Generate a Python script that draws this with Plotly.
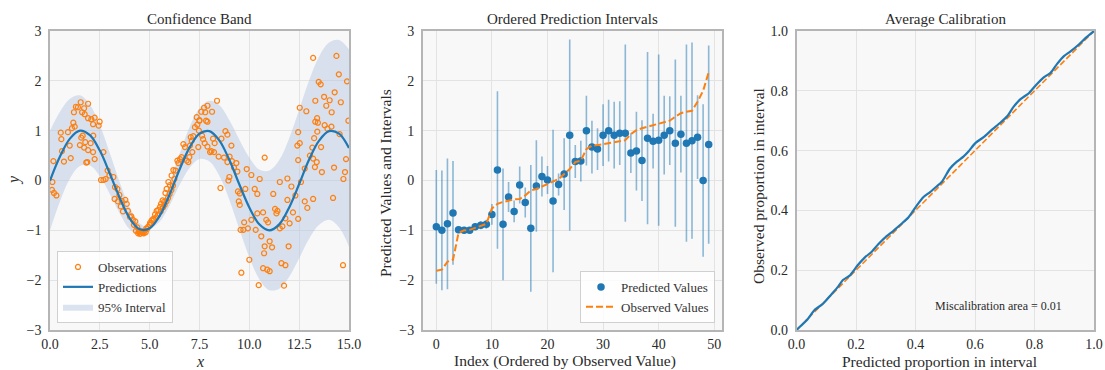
import plotly.graph_objects as go

# ---------------- Panel 1 data: Confidence Band ----------------
curve_x = [0.0, 0.5, 1.0, 1.5, 2.0, 2.5, 3.0, 3.5, 4.0, 4.5, 5.0, 5.5, 6.0, 6.5, 7.0, 7.5,
           8.0, 8.5, 9.0, 9.5, 10.0, 10.5, 11.0, 11.5, 12.0, 12.5, 13.0, 13.5, 14.0, 14.5, 15.0]
pred_curve = [0.0, 0.48, 0.84, 1.0, 0.91, 0.6, 0.14, -0.35, -0.76, -0.98, -0.96, -0.71, -0.28,
              0.22, 0.66, 0.94, 0.99, 0.8, 0.41, -0.08, -0.54, -0.88, -1.0, -0.88, -0.54, -0.07,
              0.42, 0.8, 0.99, 0.94, 0.65]
band_half = [1.0, 0.9, 0.8, 0.71, 0.61, 0.51, 0.41, 0.31, 0.22, 0.12, 0.02, 0.12, 0.22, 0.31,
             0.41, 0.51, 0.61, 0.71, 0.8, 0.9, 1.0, 1.1, 1.2, 1.29, 1.39, 1.49, 1.59, 1.69, 1.78,
             1.88, 1.98]

obs_x = [0.10, 0.12, 0.17, 0.20, 0.32, 0.54, 0.57, 0.60, 0.70, 0.90, 0.99, 1.04, 1.10, 1.17, 1.20,
         1.24, 1.30, 1.40, 1.50, 1.54, 1.57, 1.61, 1.64, 1.71, 1.71, 1.74, 1.77, 1.82, 1.87, 1.91,
         1.91, 1.91, 2.04, 2.07, 2.16, 2.16, 2.17, 2.24, 2.24, 2.44, 2.49, 2.68,
         2.56, 2.68, 2.79, 2.89, 2.98, 3.18, 3.24, 3.26, 3.38, 3.41, 3.48, 3.55, 3.60, 3.66, 3.78,
         3.85, 3.91, 4.01, 4.08, 4.16, 4.21, 4.28, 4.31, 4.38, 4.42, 4.45, 4.50, 4.52, 4.58, 4.61,
         4.65, 4.70, 4.75, 4.80, 4.83, 4.88, 4.92,
         5.00, 5.02, 5.08, 5.10, 5.18, 5.22, 5.27, 5.33, 5.35, 5.42, 5.43, 5.52, 5.55, 5.57, 5.65,
         5.67, 5.72, 5.75, 5.79, 5.84, 5.85, 5.92, 5.94, 6.00, 6.02, 6.09, 6.10, 6.17, 6.19, 6.24,
         6.30, 6.39, 6.44, 6.52, 6.60, 6.69, 6.77, 6.86, 6.94, 6.99, 7.02, 7.06, 7.11, 7.14, 7.19,
         7.27, 7.36, 7.39, 7.44, 7.47, 7.49,
         7.50, 7.59, 7.63, 7.68, 7.73, 7.76, 7.79, 7.83, 7.90, 7.90, 7.90, 8.03, 8.10, 8.13, 8.18,
         8.23, 8.26, 8.38, 8.46, 8.55, 8.60, 8.73, 8.80, 8.90, 8.90, 8.95, 9.01, 9.00, 9.10, 9.13,
         9.23, 9.35, 9.40, 9.43, 9.47, 9.52, 9.52, 9.56, 9.60, 9.70, 9.74, 9.80, 9.87, 9.93, 10.00,
         10.10, 10.10, 10.27, 10.32, 10.40, 10.40, 10.47, 10.52, 10.60, 10.69, 10.69, 10.74, 10.77,
         10.77, 10.85, 10.90, 10.94, 11.02, 11.02, 11.14, 11.20, 11.29, 11.36, 11.41, 11.53, 11.53,
         11.61, 11.66, 11.74, 11.81, 11.81, 11.91, 11.91, 11.97, 12.02, 12.11, 12.19, 12.31, 12.41,
         12.45, 12.45, 12.45, 12.53, 12.53,
         12.59, 12.78, 12.78, 12.86, 12.91, 13.04, 13.16, 13.20, 13.20, 13.20, 13.25, 13.29, 13.31,
         13.31, 13.38, 13.40, 13.41, 13.44, 13.48, 13.58, 13.60, 13.64, 13.75, 13.78, 13.86, 13.92,
         14.03, 14.12, 14.13, 14.20, 14.25, 14.28, 14.37, 14.49, 14.53, 14.59, 14.70, 14.72, 14.80,
         14.85, 14.90, 14.97]
obs_y = [-0.19, -0.03, 0.39, -0.25, -0.30, 0.96, 0.83, 0.59, 0.38, 0.97, 0.70, 0.45, 1.05, 1.16,
         1.37, 1.08, 1.48, 1.47, 0.71, 1.57, 0.86, 1.37, 0.90, 1.45, 0.66, 1.33, 0.77, 0.36, 0.37,
         1.54, 1.25, 0.61, 0.75, 1.23, 1.13, 0.57, 0.90, 1.26, 0.43, 1.10, 1.18, 0.57,
         0.01, 0.01, 0.03, 0.20, 0.10, 0.07, -0.37, -0.13, -0.17, -0.42, -0.29, -0.52, -0.41, -0.62,
         -0.39, -0.47, -0.61, -0.73, -0.72, -0.79, -0.89, -0.82, -1.01, -0.94, -1.06, -1.03, -1.02,
         -1.07, -1.02, -1.04, -1.05, -1.06, -1.01, -1.04, -0.96, -0.97, -0.93,
         -0.89, -0.85, -0.86, -0.80, -0.77, -0.79, -0.68, -0.74, -0.61, -0.69, -0.59, -0.53, -0.62,
         -0.47, -0.40, -0.54, -0.43, -0.49, -0.25, -0.42, -0.17, -0.35, -0.03, -0.27, -0.09, -0.19,
         0.10, -0.10, 0.21, 0.03, 0.20, 0.40, 0.35, 0.43, 0.47, 0.73, 0.67, 0.40, 0.37, 0.47, 0.70,
         0.87, 0.80, 0.57, 0.89, 1.07, 1.27, 1.12, 0.67, 1.00, 1.20,
         1.21, 1.38, 0.90, 0.83, 1.46, 0.75, 1.37, 1.20, 1.50, 1.18, 0.68, 0.57, 0.59, 1.38, 0.84,
         0.57, 0.75, 1.60, 0.48, -0.15, 0.84, 0.46, 0.99, 0.92, 0.37, 0.00, 0.48, 0.07, 0.70, 0.39,
         0.26, 0.35, 0.18, -0.22, -0.42, -0.26, -0.49, -0.99, -1.85, -0.99, -0.84, -0.17, 0.23,
         -0.96, -1.59,
         0.11, -0.79, -0.17, -0.99, -0.27, -0.66, -2.10, 0.03, -1.12, -0.64, -1.76, -1.46, 0.46,
         -1.32, -0.79, -1.79, -0.84, -1.22, -1.82, -1.34, -0.27, -0.57, -0.66, -0.61, -0.03, -0.96,
         -1.66, -0.92, -2.11, -0.76, -1.70, -0.39, 0.04, -1.32, -0.86, -0.12, -0.64, -0.30, 0.70,
         0.97, 0.41, -0.77, 1.46, 0.75,
         -0.03, 0.24, -0.42, 1.39, -0.55, 0.50, 0.66, 2.46, 0.44, -0.37, 0.85, 0.27, 1.60, 1.18,
         0.37, 1.25, 0.98, 1.16, 1.98, 1.93, 0.67, 0.17, 1.68, 1.11, 1.50, 1.04, 1.61, 1.08, 1.37,
         -0.35, 0.26, 1.77, 2.50, 2.13, 0.93, 1.57, -1.70, 0.03, 0.17, 0.43, 1.99, 1.20]

# ---------------- Panel 2 data: Ordered Prediction Intervals ----------------
order_idx = list(range(50))
pred_values = [-0.93, -1.0, -0.87, -0.65, -0.99, -1.0, -1.0, -0.93, -0.9, -0.88,
               -0.68, 0.21, -0.88, -0.33, -0.62, -0.09, -0.44, -0.96, -0.11, 0.08,
               0.01, -0.41, -0.08, 0.13, 0.91, 0.38, 0.39, 1.0, 0.67, 0.63,
               0.91, 1.0, 0.91, 0.95, 0.95, 0.55, 0.59, 0.4, 0.85, 0.79,
               0.81, 0.91, 1.0, 0.75, 0.93, 0.75, 0.8, 0.87, 0.0, 0.72]
interval_half = [1.14, 1.2, 1.31, 1.04, 0.07, 0.06, 0.06, 0.07, 0.08, 0.09,
                 0.21, 1.58, 1.12, 0.3, 0.22, 0.37, 0.3, 1.27, 0.92, 0.4,
                 0.28, 1.43, 0.22, 0.72, 1.92, 0.33, 0.41, 0.7, 0.53, 0.42,
                 0.62, 0.62, 0.67, 0.64, 1.78, 0.4, 0.79, 0.81, 1.73, 0.55,
                 1.72, 0.79, 0.69, 1.68, 0.77, 1.98, 1.97, 0.84, 1.53, 1.99]
observed_sorted = [-1.81, -1.79, -1.63, -1.59, -1.05, -1.0, -0.99, -0.95, -0.91, -0.87,
                   -0.56, -0.47, -0.43, -0.4, -0.38, -0.37, -0.3, -0.2, -0.17, -0.12,
                   -0.07, -0.03, 0.03, 0.13, 0.23, 0.37, 0.4, 0.63, 0.7, 0.71,
                   0.73, 0.75, 0.78, 0.8, 0.81, 0.93, 1.01, 1.05, 1.08, 1.11,
                   1.15, 1.17, 1.2, 1.28, 1.35, 1.38, 1.4, 1.58, 1.8, 2.17]

# ---------------- Panel 3 data: Average Calibration ----------------
cal_expected = [0.0, 0.016, 0.038, 0.06, 0.089, 0.117, 0.14, 0.156, 0.179, 0.207, 0.23, 0.252,
                0.274, 0.303, 0.325, 0.348, 0.376, 0.404, 0.426, 0.449, 0.471, 0.488, 0.499,
                0.516, 0.539, 0.561, 0.578, 0.601, 0.629, 0.657, 0.685, 0.708, 0.73, 0.753,
                0.781, 0.803, 0.831, 0.854, 0.876, 0.899, 0.921, 0.949, 0.972, 1.0]
cal_observed = [0.0, 0.015, 0.037, 0.066, 0.088, 0.119, 0.145, 0.167, 0.182, 0.218, 0.243, 0.261,
                0.286, 0.314, 0.331, 0.351, 0.376, 0.416, 0.444, 0.461, 0.48, 0.495, 0.512,
                0.54, 0.563, 0.58, 0.597, 0.625, 0.645, 0.67, 0.693, 0.715, 0.747, 0.772,
                0.792, 0.817, 0.845, 0.86, 0.89, 0.916, 0.932, 0.955, 0.977, 1.0]
ideal_line = [0.0, 1.0]
miscal_text = "Miscalibration area = 0.01"

# ---------------- Figure ----------------
FONT = "Liberation Serif"
BLUE = "#1f77b4"
ORANGE = "#ff7f0e"

upper = [p + h for p, h in zip(pred_curve, band_half)]
lower = [p - h for p, h in zip(pred_curve, band_half)]

fig = go.Figure()

fig.add_trace(go.Scatter(x=curve_x, y=lower, mode="lines", line=dict(width=0, shape="spline"),
                         showlegend=False, hoverinfo="skip", xaxis="x", yaxis="y"))
fig.add_trace(go.Scatter(x=curve_x, y=upper, mode="lines", line=dict(width=0, shape="spline"),
                         fill="tonexty", fillcolor="rgba(176,196,222,0.45)",
                         name="95% Interval", legend="legend", legendrank=3,
                         xaxis="x", yaxis="y"))
fig.add_trace(go.Scatter(x=obs_x, y=obs_y, mode="markers",
                         marker=dict(symbol="circle-open", size=5, color=ORANGE,
                                     line=dict(width=1.2, color=ORANGE)),
                         name="Observations", legend="legend", legendrank=1,
                         xaxis="x", yaxis="y"))
fig.add_trace(go.Scatter(x=curve_x, y=pred_curve, mode="lines",
                         line=dict(color=BLUE, width=2.2, shape="spline"),
                         name="Predictions", legend="legend", legendrank=2,
                         xaxis="x", yaxis="y"))

fig.add_trace(go.Scatter(x=order_idx, y=pred_values, mode="markers",
                         marker=dict(color="rgba(0,0,0,0)", size=1),
                         error_y=dict(type="data", array=interval_half, symmetric=True,
                                      color="rgba(31,119,180,0.5)", thickness=1.6, width=0),
                         showlegend=False, hoverinfo="skip", xaxis="x2", yaxis="y2"))
fig.add_trace(go.Scatter(x=order_idx, y=pred_values, mode="markers",
                         marker=dict(color=BLUE, size=7.5),
                         name="Predicted Values", legend="legend2", legendrank=1,
                         xaxis="x2", yaxis="y2"))
fig.add_trace(go.Scatter(x=order_idx, y=observed_sorted, mode="lines",
                         line=dict(color=ORANGE, width=2, dash="7px,3px"),
                         name="Observed Values", legend="legend2", legendrank=2,
                         xaxis="x2", yaxis="y2"))

fig.add_trace(go.Scatter(x=ideal_line, y=ideal_line, mode="lines",
                         line=dict(color=ORANGE, width=1.6, dash="6px,2.5px"),
                         showlegend=False, xaxis="x3", yaxis="y3"))
fig.add_trace(go.Scatter(x=cal_expected, y=cal_observed, mode="lines",
                         line=dict(color=BLUE, width=2.2, shape="spline", smoothing=0.6),
                         showlegend=False, xaxis="x3", yaxis="y3"))

W, H = 1105, 370
def px_x(p):
    return p / W
def px_y(p):
    return 1 - p / H

base = dict(showline=True, linecolor="#b5b5b5", linewidth=1.5, mirror=True,
            showgrid=True, gridcolor="#e3e3e3", gridwidth=1, zeroline=False,
            automargin=False,
            tickfont=dict(family=FONT, size=14, color="#2a2a2a"))
xs = dict(base, ticks="")
ys = dict(base, ticks="outside", ticklen=4, tickcolor="rgba(0,0,0,0)")

ydom = [px_y(330), px_y(31)]
fig.update_layout(
    width=W, height=H, margin=dict(l=0, r=0, t=0, b=0, autoexpand=False),
    paper_bgcolor="white", plot_bgcolor="#f8f8f8",
    font=dict(family=FONT, color="#2a2a2a"),
    xaxis=dict(xs, domain=[px_x(50), px_x(349)], range=[0, 15],
               tickvals=[0, 2.5, 5, 7.5, 10, 12.5, 15], tickformat=".1f", anchor="y"),
    yaxis=dict(ys, domain=ydom, range=[-3, 3], tickvals=[-3, -2, -1, 0, 1, 2, 3],
               anchor="x"),
    xaxis2=dict(xs, domain=[px_x(422.7), px_x(722.3)], range=[-2.45, 51.45],
                tickvals=[0, 10, 20, 30, 40, 50], anchor="y2"),
    yaxis2=dict(ys, domain=ydom, range=[-3, 3], tickvals=[-3, -2, -1, 0, 1, 2, 3],
                anchor="x2"),
    xaxis3=dict(xs, domain=[px_x(796.5), px_x(1094)], range=[0, 1],
                tickvals=[0, 0.2, 0.4, 0.6, 0.8, 1.0], tickformat=".1f", anchor="y3"),
    yaxis3=dict(ys, domain=ydom, range=[0, 1],
                tickvals=[0, 0.2, 0.4, 0.6, 0.8, 1.0], tickformat=".1f", anchor="x3"),
    legend=dict(x=px_x(57), y=px_y(323), xanchor="left", yanchor="bottom",
                traceorder="normal",
                bgcolor="rgba(255,255,255,0.8)", bordercolor="#d0d0d0", borderwidth=1,
                font=dict(family=FONT, size=13, color="#333333"), tracegroupgap=0,
                itemwidth=30),
    legend2=dict(x=px_x(715), y=px_y(323), xanchor="right", yanchor="bottom",
                 traceorder="normal",
                 bgcolor="rgba(255,255,255,0.8)", bordercolor="#d0d0d0", borderwidth=1,
                 font=dict(family=FONT, size=13, color="#333333"), tracegroupgap=0,
                 itemwidth=30),
    showlegend=True,
)

ann = []
def add_text(text, xpx, ypx, size, angle=0, xanchor="center"):
    ann.append(dict(text=text, x=px_x(xpx), y=px_y(ypx), xref="paper", yref="paper",
                    showarrow=False, textangle=angle, xanchor=xanchor, yanchor="middle",
                    font=dict(family=FONT, size=size, color="#2a2a2a")))

add_text("Confidence Band", 199.5, 19, 15)
add_text("Ordered Prediction Intervals", 572.5, 19, 15)
add_text("Average Calibration", 945, 19, 15)
add_text("<i>x</i>", 199.5, 361, 16)
add_text("Index (Ordered by Observed Value)", 565, 361, 15.5)
add_text("Predicted proportion in interval", 939, 361, 15.5)
add_text("<i>y</i>", 14, 180, 16, angle=-90)
add_text("Predicted Values and Intervals", 385, 183, 15.5, angle=-90)
add_text("Observed proportion in interval", 758, 186, 15.5, angle=-90)
add_text(miscal_text, 1064, 306, 12, xanchor="right")
fig.update_layout(annotations=ann)

fig.write_html("out.html")
